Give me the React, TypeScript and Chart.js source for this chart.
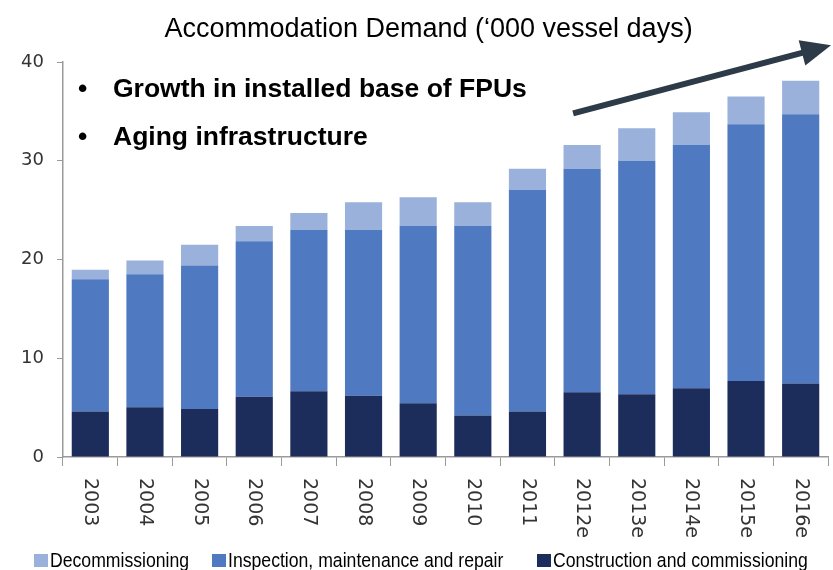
import React, { useEffect, useRef } from "react";
import { Chart, registerables } from "chart.js";

Chart.register(...registerables);

const TITLE = "Accommodation Demand (\u2018000 vessel days)";
const CATEGORIES = ["2003", "2004", "2005", "2006", "2007", "2008", "2009", "2010", "2011", "2012e", "2013e", "2014e", "2015e", "2016e"];
const CONSTRUCTION = [4.6, 5.05, 4.85, 6.1, 6.65, 6.2, 5.45, 4.2, 4.6, 6.55, 6.35, 6.95, 7.7, 7.45];
const INSPECTION = [13.4, 13.45, 14.55, 15.75, 16.35, 16.8, 17.95, 19.2, 22.45, 22.65, 23.65, 24.65, 26.0, 27.25];
const DECOMMISSIONING = [0.95, 1.4, 2.1, 1.55, 1.7, 2.8, 2.9, 2.4, 2.15, 2.4, 3.3, 3.3, 2.8, 3.4];
const Y_MIN = 0;
const Y_MAX = 40;
const Y_STEP = 10;
const BULLETS = ["Growth in installed base of FPUs", "Aging infrastructure"];
const SERIES_NAMES = ["Construction and commissioning", "Inspection, maintenance and repair", "Decommissioning"];
const COLORS = ["#1c2d5c", "#4f79c0", "#9ab1db"];

const overlayPlugin = {
  id: "overlay",
  afterDraw(chart: any) {
    const ctx = chart.ctx;
    const area = chart.chartArea;
    const xs = chart.scales.x;
    const ys = chart.scales.y;
    ctx.save();

    // Title
    ctx.fillStyle = "#000";
    ctx.font = "27px 'Liberation Sans', Arial, sans-serif";
    ctx.textAlign = "center";
    ctx.textBaseline = "alphabetic";
    ctx.fillText(TITLE, chart.width / 2 + 12, 37);

    // Bullets
    ctx.font = "bold 26.5px 'Liberation Sans', Arial, sans-serif";
    ctx.textAlign = "left";
    BULLETS.forEach((b, i) => {
      const y = 97 + i * 48;
      ctx.fillText("\u2022", 78, y);
      ctx.fillText(b, 113, y);
    });

    // X labels rotated (top-to-bottom)
    ctx.fillStyle = "#333";
    ctx.font = "19px 'DejaVu Sans', sans-serif";
    CATEGORIES.forEach((c, i) => {
      const x = xs.getPixelForValue(i);
      ctx.save();
      ctx.translate(x, area.bottom + 21);
      ctx.rotate(Math.PI / 2);
      ctx.textAlign = "left";
      ctx.textBaseline = "middle";
      ctx.fillText(c, 0, 0);
      ctx.restore();
    });

    // Arrow
    const x1 = xs.getPixelForValue(9) - 9;
    const y1 = ys.getPixelForValue(34.8);
    const x2 = area.right + 3;
    const y2 = ys.getPixelForValue(41.7);
    const ang = Math.atan2(y2 - y1, x2 - x1);
    const headLen = 30;
    const headW = 13;
    const bx = x2 - headLen * Math.cos(ang);
    const by = y2 - headLen * Math.sin(ang);
    ctx.strokeStyle = "#2d3a47";
    ctx.fillStyle = "#2d3a47";
    ctx.lineWidth = 6;
    ctx.beginPath();
    ctx.moveTo(x1, y1);
    ctx.lineTo(bx + 2 * Math.cos(ang), by + 2 * Math.sin(ang));
    ctx.stroke();
    ctx.beginPath();
    ctx.moveTo(x2, y2);
    ctx.lineTo(bx + headW * Math.sin(ang), by - headW * Math.cos(ang));
    ctx.lineTo(bx - headW * Math.sin(ang), by + headW * Math.cos(ang));
    ctx.closePath();
    ctx.fill();

    // Legend (reverse order: top of stack first), condensed sans
    const legendX = [34, 212, 537];
    const order = [2, 1, 0];
    const condense = 0.86;
    ctx.font = "20.5px 'Liberation Sans', Arial, sans-serif";
    ctx.textBaseline = "alphabetic";
    ctx.textAlign = "left";
    order.forEach((di, k) => {
      const ds = chart.data.datasets[di];
      const lx = legendX[k];
      ctx.fillStyle = ds.backgroundColor;
      ctx.fillRect(lx, 554, 14, 13);
      ctx.fillStyle = "#000";
      ctx.save();
      ctx.translate(lx + 16, 567);
      ctx.scale(condense, 1);
      ctx.fillText(ds.label, 0, 0);
      ctx.restore();
    });

    ctx.restore();
  },
};

export default function App() {
  const ref = useRef<HTMLCanvasElement | null>(null);
  useEffect(() => {
    if (!ref.current) return;
    const chart = new Chart(ref.current, {
      type: "bar",
      data: {
        labels: CATEGORIES,
        datasets: [
          { label: SERIES_NAMES[0], data: CONSTRUCTION, backgroundColor: COLORS[0] },
          { label: SERIES_NAMES[1], data: INSPECTION, backgroundColor: COLORS[1] },
          { label: SERIES_NAMES[2], data: DECOMMISSIONING, backgroundColor: COLORS[2] },
        ],
      },
      options: {
        animation: false,
        responsive: false,
        maintainAspectRatio: false,
        layout: { padding: { top: 62, right: 5, left: 0, bottom: 0 } },
        datasets: { bar: { barPercentage: 0.68, categoryPercentage: 1 } },
        plugins: {
          legend: { display: false },
          title: { display: false },
          tooltip: { enabled: false },
        },
        scales: {
          x: {
            stacked: true,
            grid: { display: true, drawOnChartArea: false, drawTicks: true, tickLength: 9, color: "#9a9a9a", offset: true },
            border: { display: true, color: "#9a9a9a", width: 1.5 },
            ticks: { display: false },
            afterFit(scale: any) {
              scale.height = 113;
            },
          },
          y: {
            stacked: true,
            min: Y_MIN,
            max: Y_MAX,
            grid: { display: true, drawOnChartArea: false, drawTicks: true, tickLength: 6, color: "#9a9a9a" },
            border: { display: true, color: "#9a9a9a", width: 1.5 },
            ticks: {
              stepSize: Y_STEP,
              padding: 13,
              color: "#333333",
              font: { family: "'DejaVu Sans', sans-serif", size: 18 },
            },
            afterFit(scale: any) {
              scale.width = 63;
            },
          },
        },
      },
      plugins: [overlayPlugin],
    });
    return () => chart.destroy();
  }, []);
  return (
    <div style={{ position: "absolute", left: 0, top: 0, width: 833, height: 570, background: "#fff" }}>
      <canvas ref={ref} width={833} height={570} style={{ display: "block" }} />
    </div>
  );
}
